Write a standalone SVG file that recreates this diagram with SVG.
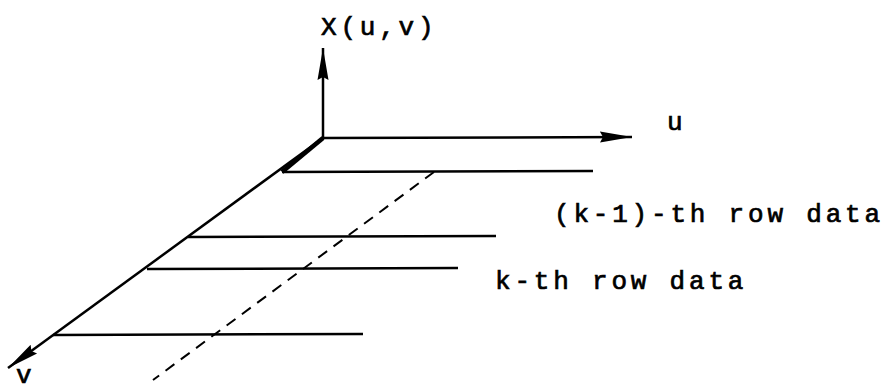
<svg xmlns="http://www.w3.org/2000/svg" width="884" height="392" viewBox="0 0 884 392">
  <style>
    .ax { stroke: #000; stroke-width: 2.5; fill: none; }
    .row { stroke: #000; stroke-width: 2.5; fill: none; }
    .dash { stroke: #000; stroke-width: 2; fill: none; stroke-dasharray: 11 8; }
    .lbl { font-family: "Liberation Mono", "DejaVu Sans Mono", monospace; font-size: 26px; fill: #000; stroke: #000; stroke-width: 0.7px; letter-spacing: 3.8px; }
  </style>
  <defs>
    <marker id="arr" markerUnits="userSpaceOnUse" viewBox="0 0 32 13" refX="32" refY="6.5" markerWidth="32" markerHeight="13" orient="auto">
      <path d="M0,1 L32,6.5 L0,12 L3,6.5 z" fill="#000"/>
    </marker>
  </defs>
  <rect width="884" height="392" fill="#fff"/>
  <g id="axes">
    <line class="ax" x1="323" y1="138" x2="323" y2="48" marker-end="url(#arr)"/>
    <line class="ax" x1="323" y1="138" x2="632" y2="137" marker-end="url(#arr)"/>
    <line class="ax" x1="323" y1="138" x2="8" y2="368" marker-end="url(#arr)"/>
    <line x1="323" y1="138" x2="282" y2="172" stroke="#000" stroke-width="4.5"/>
  </g>
  <g id="rows">
    <line class="row" x1="282" y1="172" x2="593" y2="171"/>
    <line class="row" x1="188" y1="237" x2="496" y2="236"/>
    <line class="row" x1="147" y1="269" x2="458" y2="268"/>
    <line class="row" x1="53" y1="335" x2="363" y2="334"/>
    <line class="dash" x1="434" y1="172" x2="153" y2="380"/>
  </g>
  <g id="labels">
    <text class="lbl" x="321" y="35">X(u,v)</text>
    <text class="lbl" x="667" y="130">u</text>
    <text class="lbl" x="16" y="383">v</text>
    <text class="lbl" x="554" y="222">(k-1)-th row data</text>
    <text class="lbl" x="495" y="289">k-th row data</text>
  </g>
</svg>
